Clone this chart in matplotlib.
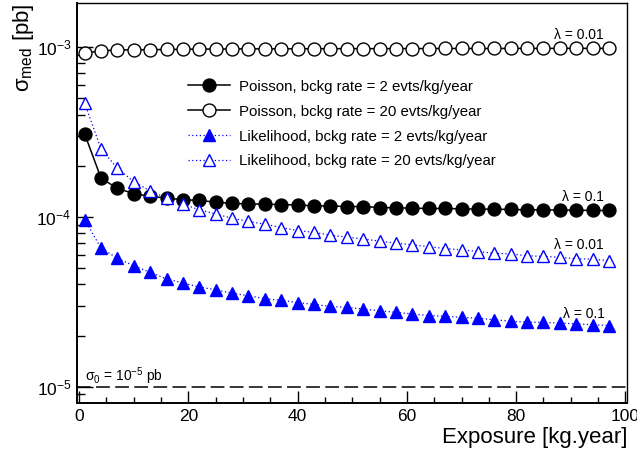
import matplotlib
matplotlib.use("Agg")
import matplotlib.pyplot as plt
from matplotlib.ticker import LogLocator, MultipleLocator, NullFormatter

plt.rcParams["font.family"] = ["Liberation Sans", "DejaVu Sans"]
plt.rcParams["mathtext.fontset"] = "custom"
plt.rcParams["mathtext.rm"] = "Liberation Sans"
plt.rcParams["mathtext.it"] = "Liberation Sans:italic"

# exposure [kg.year]
exposure = [1, 4, 7, 10, 13, 16, 19, 22, 25, 28, 31, 34, 37, 40, 43, 46, 49,
            52, 55, 58, 61, 64, 67, 70, 73, 76, 79, 82, 85, 88, 91, 94, 97]

# sigma_med [pb]
poisson_2 = [3.08e-4, 1.69e-4, 1.47e-4, 1.37e-4, 1.32e-4, 1.29e-4, 1.26e-4, 1.25e-4,
             1.22e-4, 1.20e-4, 1.19e-4, 1.19e-4, 1.18e-4, 1.175e-4, 1.16e-4, 1.16e-4,
             1.15e-4, 1.15e-4, 1.135e-4, 1.13e-4, 1.125e-4, 1.12e-4, 1.12e-4, 1.115e-4,
             1.11e-4, 1.11e-4, 1.105e-4, 1.10e-4, 1.10e-4, 1.095e-4, 1.095e-4, 1.09e-4, 1.09e-4]
poisson_20 = [9.2e-4, 9.5e-4, 9.6e-4, 9.62e-4, 9.65e-4, 9.67e-4, 9.7e-4, 9.72e-4,
              9.73e-4, 9.74e-4, 9.75e-4, 9.75e-4, 9.76e-4, 9.76e-4, 9.77e-4, 9.77e-4,
              9.78e-4, 9.78e-4, 9.78e-4, 9.79e-4, 9.79e-4, 9.79e-4, 9.8e-4, 9.8e-4,
              9.8e-4, 9.8e-4, 9.81e-4, 9.81e-4, 9.81e-4, 9.82e-4, 9.82e-4, 9.82e-4, 9.82e-4]
like_2 = [9.6e-5, 6.55e-5, 5.7e-5, 5.15e-5, 4.71e-5, 4.31e-5, 4.08e-5, 3.86e-5,
          3.72e-5, 3.55e-5, 3.43e-5, 3.3e-5, 3.22e-5, 3.13e-5, 3.05e-5, 2.97e-5,
          2.93e-5, 2.86e-5, 2.80e-5, 2.74e-5, 2.68e-5, 2.62e-5, 2.60e-5, 2.56e-5,
          2.53e-5, 2.48e-5, 2.43e-5, 2.40e-5, 2.39e-5, 2.37e-5, 2.34e-5, 2.32e-5, 2.29e-5]
like_20 = [4.67e-4, 2.51e-4, 1.93e-4, 1.61e-4, 1.42e-4, 1.29e-4, 1.19e-4, 1.10e-4,
           1.04e-4, 9.8e-5, 9.4e-5, 9.05e-5, 8.65e-5, 8.3e-5, 8.1e-5, 7.8e-5,
           7.6e-5, 7.4e-5, 7.2e-5, 7.0e-5, 6.85e-5, 6.68e-5, 6.5e-5, 6.4e-5,
           6.25e-5, 6.1e-5, 6.05e-5, 5.9e-5, 5.85e-5, 5.78e-5, 5.67e-5, 5.63e-5, 5.53e-5]
sigma0 = 1e-5

fig = plt.figure(figsize=(6.37, 4.55), dpi=100)
ax = fig.add_axes([77/637, 1 - 402.5/455, 550/637, 399.5/455])

blue = "#0000ff"
ax.plot(exposure, poisson_2, color="black", lw=1.1, marker="o", ms=9.3,
        label="Poisson, bckg rate = 2 evts/kg/year")
ax.plot(exposure, poisson_20, color="black", lw=1.1, marker="o", ms=9.3, mfc="white",
        mew=1.0, label="Poisson, bckg rate = 20 evts/kg/year")
ax.plot(exposure, like_2, color=blue, lw=0.9, ls=(0, (1, 2)), marker="^", ms=9.3,
        mec=blue, mfc=blue, label="Likelihood, bckg rate = 2 evts/kg/year")
ax.plot(exposure, like_20, color=blue, lw=0.9, ls=(0, (1, 2)), marker="^", ms=9.3,
        mec=blue, mfc="white", mew=1.0, label="Likelihood, bckg rate = 20 evts/kg/year")
ax.axhline(sigma0, color="black", lw=1.1, ls=(0, (9, 3.5)))

ax.set_yscale("log")
ax.set_xlim(-0.4, 100.3)
ax.set_ylim(8.07e-6, 1.816e-3)

ax.xaxis.set_major_locator(MultipleLocator(20))
ax.xaxis.set_minor_locator(MultipleLocator(5))
ax.yaxis.set_major_locator(LogLocator(base=10))
ax.yaxis.set_minor_locator(LogLocator(base=10, subs=range(2, 10)))
ax.yaxis.set_minor_formatter(NullFormatter())
ax.tick_params(axis="both", which="both", direction="in", top=False, right=False,
               labelsize=12.5, width=1.0)
ax.tick_params(axis="y", which="major", length=11.5, pad=4)
ax.tick_params(axis="y", which="minor", length=5.8)
ax.tick_params(axis="x", which="major", length=8.6, pad=5)
ax.tick_params(axis="x", which="minor", length=4.3)
ax.set_yticks([1e-5, 1e-4, 1e-3])
ax.set_yticklabels([r"$\mathregular{10^{-5}}$", r"$\mathregular{10^{-4}}$",
                    r"$\mathregular{10^{-3}}$"])
for s in ax.spines.values():
    s.set_linewidth(1.0)
ax.spines["left"].set_linewidth(1.4)
ax.spines["bottom"].set_linewidth(1.4)

ax.legend(loc="upper left", bbox_to_anchor=(0.177, 0.842), frameon=False, fontsize=10.8,
          handlelength=2.8, labelspacing=0.73, handletextpad=0.6)

ax.text(96.0, 1.18e-3, "λ = 0.01", ha="right", va="center", fontsize=10)
ax.text(96.0, 1.315e-4, "λ = 0.1", ha="right", va="center", fontsize=10)
ax.text(96.0, 6.83e-5, "λ = 0.01", ha="right", va="center", fontsize=10)
ax.text(96.3, 2.68e-5, "λ = 0.1", ha="right", va="center", fontsize=10)
ax.text(1.0, 1.156e-5, r"$\mathregular{σ_0}$ = $\mathregular{10^{-5}}$ pb",
        ha="left", va="center", fontsize=10)

fig.text(627/637, 1 - 437/455, "Exposure [kg.year]", ha="right", va="center", fontsize=16)
fig.text(23/637, 1 - 3/455, r"$\mathregular{σ_{med}}$ [pb]", rotation=90,
         ha="center", va="top", fontsize=16)

fig.savefig("out.png", dpi=100)
